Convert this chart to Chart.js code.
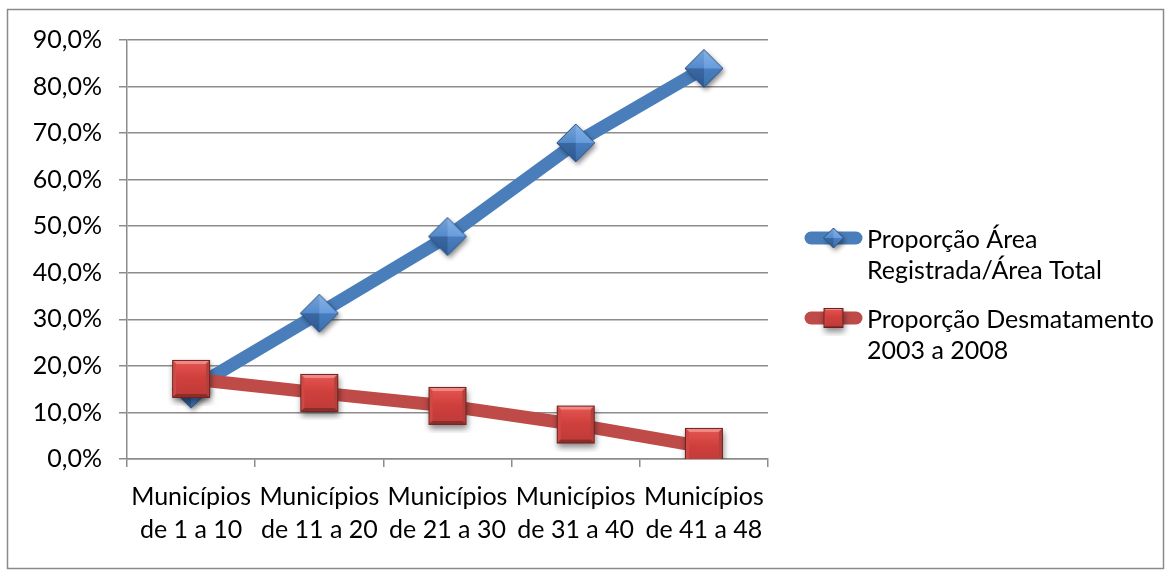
<!DOCTYPE html>
<html>
<head>
<meta charset="utf-8">
<script src="https://cdn.jsdelivr.net/npm/chart.js@4/dist/chart.umd.min.js"></script>
<style>
  html, body { margin: 0; padding: 0; background: #fff; }
  #wrap { width: 1166px; height: 572px; position: relative; }
</style>
</head>
<body>
<div id="wrap"><canvas id="c" width="1166" height="572"></canvas></div>
<script>
// Category labels (two lines each)
const categories = [
  ['Municípios', 'de 1 a 10'],
  ['Municípios', 'de 11 a 20'],
  ['Municípios', 'de 21 a 30'],
  ['Municípios', 'de 31 a 40'],
  ['Municípios', 'de 41 a 48']
];
// Series values, in percent
const areaRegistrada = [15.0, 31.3, 47.8, 67.9, 83.9];
const desmatamento = [17.2, 14.2, 11.4, 7.4, 2.6];
// Series names (legend lines)
const labelArea = ['Proporção Área', 'Registrada/Área Total'];
const labelDesmat = ['Proporção Desmatamento', '2003 a 2008'];
// Y axis tick values
const yTicks = [0, 10, 20, 30, 40, 50, 60, 70, 80, 90];

const FONT = 'Lato, "Open Sans", sans-serif';
const FSIZE = 25;

function fmtPct(v) { return v.toFixed(1).replace('.', ',') + '%'; }

function polyFill(g, pts, fill) {
  g.beginPath();
  g.moveTo(pts[0][0], pts[0][1]);
  for (let i = 1; i < pts.length; i++) g.lineTo(pts[i][0], pts[i][1]);
  g.closePath();
  g.fillStyle = fill;
  g.fill();
}

// Diamond marker: four facets meeting at the centre, with a soft shadow
function makeDiamond(half, faces, outline) {
  const pad = 8;
  const s = Math.ceil(half * 2 + pad * 2);
  const cv = document.createElement('canvas');
  cv.width = s; cv.height = s;
  const g = cv.getContext('2d');
  const c = s / 2;
  const pts = [[c, c - half], [c + half, c], [c, c + half], [c - half, c]];
  g.save();
  g.shadowColor = 'rgba(0,0,0,0.45)';
  g.shadowBlur = 5; g.shadowOffsetX = 2; g.shadowOffsetY = 3;
  polyFill(g, pts, faces[0]);
  g.restore();
  for (let i = 0; i < 4; i++) {
    polyFill(g, [[c, c], pts[i], pts[(i + 1) % 4]], faces[i]);
  }
  const hl = g.createLinearGradient(0, c - half, 0, c + half);
  hl.addColorStop(0, 'rgba(255,255,255,0.25)');
  hl.addColorStop(0.5, 'rgba(255,255,255,0.05)');
  hl.addColorStop(1, 'rgba(0,0,0,0.08)');
  polyFill(g, pts, hl);
  g.beginPath();
  g.moveTo(pts[0][0], pts[0][1]);
  for (let i = 1; i < 4; i++) g.lineTo(pts[i][0], pts[i][1]);
  g.closePath();
  g.lineWidth = 1; g.strokeStyle = outline; g.stroke();
  return cv;
}

// Square marker: flat face framed by narrow bevelled edges, with a soft shadow
function makeSquare(half, bevel, outline) {
  const pad = 8;
  const s = Math.ceil(half * 2 + pad * 2);
  const cv = document.createElement('canvas');
  cv.width = s; cv.height = s;
  const g = cv.getContext('2d');
  const c = s / 2;
  const L = c - half, R = c + half, T = c - half, B = c + half;
  const b = bevel;
  g.save();
  g.shadowColor = 'rgba(0,0,0,0.45)';
  g.shadowBlur = 6; g.shadowOffsetX = 1; g.shadowOffsetY = 4;
  g.fillStyle = '#b53b38';
  g.fillRect(L, T, R - L, B - T);
  g.restore();
  polyFill(g, [[L, T], [R, T], [R - b, T + b], [L + b, T + b]], '#ef8985');
  polyFill(g, [[L, T], [L + b, T + b], [L + b, B - b], [L, B]], '#cf4a46');
  polyFill(g, [[R, T], [R, B], [R - b, B - b], [R - b, T + b]], '#b3403d');
  polyFill(g, [[L, B], [L + b, B - b], [R - b, B - b], [R, B]], '#8e2c2a');
  const face = g.createLinearGradient(0, T + b, 0, B - b);
  face.addColorStop(0, '#e2524e');
  face.addColorStop(0.45, '#d0403d');
  face.addColorStop(1, '#c13c39');
  g.fillStyle = face;
  g.fillRect(L + b, T + b, R - L - 2 * b, B - T - 2 * b);
  g.lineWidth = 1; g.strokeStyle = outline;
  g.strokeRect(L + 0.5, T + 0.5, R - L - 1, B - T - 1);
  return cv;
}

const blueFaces = ['#5f98dc', '#3f77bb', '#2f5f9c', '#4a84c9'];
const blueMark = makeDiamond(19, blueFaces, '#2a5183');
const redMark = makeSquare(19, 4, '#6e2220');
const blueMarkSmall = makeDiamond(10, blueFaces, '#2a5183');
const redMarkSmall = makeSquare(10, 2, '#6e2220');

// Outer frame of the chart
const framePlugin = {
  id: 'frame',
  beforeDraw(chart) {
    const ctx = chart.ctx;
    ctx.save();
    ctx.fillStyle = '#fff';
    ctx.fillRect(0, 0, chart.width, chart.height);
    ctx.strokeStyle = '#8a8a8a';
    ctx.lineWidth = 1.5;
    ctx.strokeRect(7.5, 9.5, 1156, 559);
    ctx.restore();
  }
};

// Legend at the right, with a line sample and marker per series
const legendPlugin = {
  id: 'sideLegend',
  afterDraw(chart) {
    const ctx = chart.ctx;
    const x0 = 805, x1 = 862, tx = 867;
    const tops = [238, 318];
    const marks = [blueMarkSmall, redMarkSmall];
    chart.data.datasets.forEach((ds, i) => {
      const y = tops[i];
      ctx.save();
      ctx.strokeStyle = ds.borderColor;
      ctx.lineWidth = 13;
      ctx.lineCap = 'round';
      ctx.beginPath(); ctx.moveTo(x0 + 6, y); ctx.lineTo(x1 - 6, y); ctx.stroke();
      const m = marks[i];
      ctx.drawImage(m, (x0 + x1) / 2 - m.width / 2, y - m.height / 2);
      ctx.fillStyle = '#000';
      ctx.font = FSIZE + 'px ' + FONT;
      ctx.textBaseline = 'middle';
      ctx.textAlign = 'left';
      ds.label.forEach((line, k) => ctx.fillText(line, tx, y + 2 + k * 31));
      ctx.restore();
    });
  }
};

new Chart(document.getElementById('c'), {
  type: 'line',
  data: {
    labels: categories,
    datasets: [
      {
        label: labelArea,
        data: areaRegistrada,
        borderColor: '#4a7ebb',
        borderWidth: 13,
        borderCapStyle: 'round',
        borderJoinStyle: 'round',
        pointStyle: blueMark,
        order: 1,
        tension: 0
      },
      {
        label: labelDesmat,
        data: desmatamento,
        borderColor: '#be4b48',
        borderWidth: 13,
        borderCapStyle: 'round',
        borderJoinStyle: 'round',
        pointStyle: redMark,
        order: 0,
        tension: 0
      }
    ]
  },
  options: {
    responsive: false,
    animation: false,
    events: [],
    layout: { padding: { left: 0, top: 40, right: 398, bottom: 0 } },
    plugins: { legend: { display: false }, tooltip: { enabled: false } },
    scales: {
      x: {
        offset: true,
        grid: { offset: true, drawOnChartArea: false, drawTicks: true, tickLength: 8, color: '#8c8c8c', lineWidth: 1.5 },
        border: { color: '#8c8c8c', width: 1.5 },
        ticks: { color: '#000', font: { family: FONT, size: FSIZE, lineHeight: 1.3 }, padding: 14, maxRotation: 0, autoSkip: false },
        afterFit(scale) { scale.height = 113; }
      },
      y: {
        min: 0, max: 90,
        afterBuildTicks(scale) { scale.ticks = yTicks.map(v => ({ value: v })); },
        grid: { color: '#8c8c8c', lineWidth: 1.5, tickLength: 8 },
        border: { color: '#8c8c8c', width: 1.5 },
        ticks: { color: '#000', font: { family: FONT, size: FSIZE }, padding: 17, callback: v => fmtPct(v) },
        afterFit(scale) { scale.width = 127; }
      }
    }
  },
  plugins: [framePlugin, legendPlugin]
});
</script>
</body>
</html>
